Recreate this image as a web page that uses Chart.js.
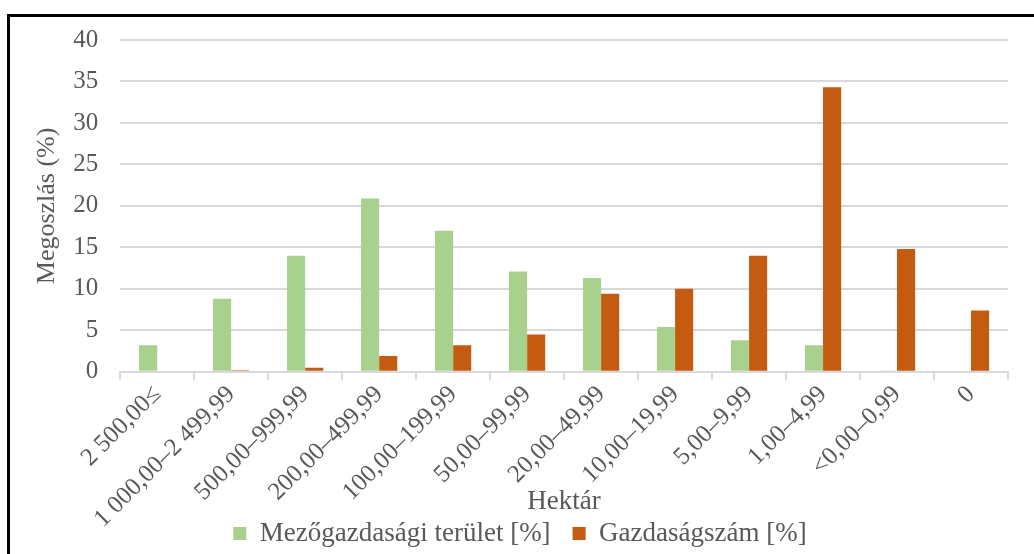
<!DOCTYPE html>
<html>
<head>
<meta charset="utf-8">
<script src="https://cdn.jsdelivr.net/npm/chart.js@4/dist/chart.umd.min.js"></script>
<style>
  html, body { margin: 0; padding: 0; background: #fff; overflow: hidden; }
  #frame { position: absolute; left: 7px; top: 14px; width: 1100px; height: 600px; border: 3px solid #000; }
  #wrap { position: absolute; left: 0; top: 0; width: 1034px; height: 554px; }
</style>
</head>
<body>
<div id="frame"></div>
<div id="wrap"><canvas id="myChart" width="1034" height="554"></canvas></div>
<script>
"use strict"

const categories = ["2 500,00≤", "1 000,00–2 499,99", "500,00–999,99", "200,00–499,99", "100,00–199,99",
  "50,00–99,99", "20,00–49,99", "10,00–19,99", "5,00–9,99", "1,00–4,99", "<0,00–0,99", "0"];
const areaShare = [3.2, 8.8, 14.0, 20.9, 17.0, 12.1, 11.3, 5.4, 3.8, 3.2, 0.1, 0];
const farmShare = [0, 0.2, 0.5, 1.9, 3.2, 4.5, 9.4, 10.0, 14.0, 34.3, 14.8, 7.4];
const seriesNames = ["Mezőgazdasági terület [%]", "Gazdaságszám [%]"];

const green = '#A9D18E';
const orange = '#C55A11';
const textGrey = '#595959';
const gridGrey = '#d9d9d9';
const serif = "'Liberation Serif', 'Times New Roman', serif";

// let the long rotated labels run past the axis box, like Excel does
function looseXAxis(scale) {
  scale.paddingLeft = 0;
  scale._computeLabelArea = () => undefined;
}

const ctx = document.getElementById('myChart').getContext('2d');
const myChart = new Chart(ctx, {
  type: 'bar',
  data: {
    labels: categories,
    datasets: [{
      label: seriesNames[0],
      data: areaShare,
      backgroundColor: green,
      categoryPercentage: 0.49,
      barPercentage: 1.0
    }, {
      label: seriesNames[1],
      data: farmShare,
      backgroundColor: orange,
      categoryPercentage: 0.49,
      barPercentage: 1.0
    }]
  },
  options: {
    responsive: false,
    animation: false,
    layout: { padding: { left: 32, right: 26, top: 40, bottom: -3 } },
    plugins: {
      legend: {
        position: 'bottom',
        labels: {
          color: textGrey,
          font: { family: serif, size: 27 },
          boxWidth: 13,
          boxHeight: 13,
          padding: 22
        }
      },
      tooltip: { enabled: false }
    },
    scales: {
      x: {
        afterFit: looseXAxis,
        grid: { offset: true, drawOnChartArea: false, color: gridGrey, lineWidth: 2, tickLength: 8 },
        border: { color: gridGrey, width: 2 },
        ticks: {
          color: textGrey,
          font: { family: serif, size: 25 },
          maxRotation: 45,
          minRotation: 45,
          padding: 0,
          autoSkip: false
        },
        title: {
          display: true,
          text: 'Hektár',
          color: textGrey,
          font: { family: serif, size: 27 },
          padding: { top: -48, bottom: -20 }
        }
      },
      y: {
        min: 0,
        max: 40,
        ticks: {
          stepSize: 5,
          color: textGrey,
          font: { family: serif, size: 25 },
          padding: 22
        },
        grid: { color: gridGrey, lineWidth: 2, drawTicks: false },
        border: { display: false },
        title: {
          display: true,
          text: 'Megoszlás (%)',
          color: textGrey,
          font: { family: serif, size: 26 },
          padding: { top: 0, bottom: -12 }
        }
      }
    }
  }
});
</script>
</body>
</html>
